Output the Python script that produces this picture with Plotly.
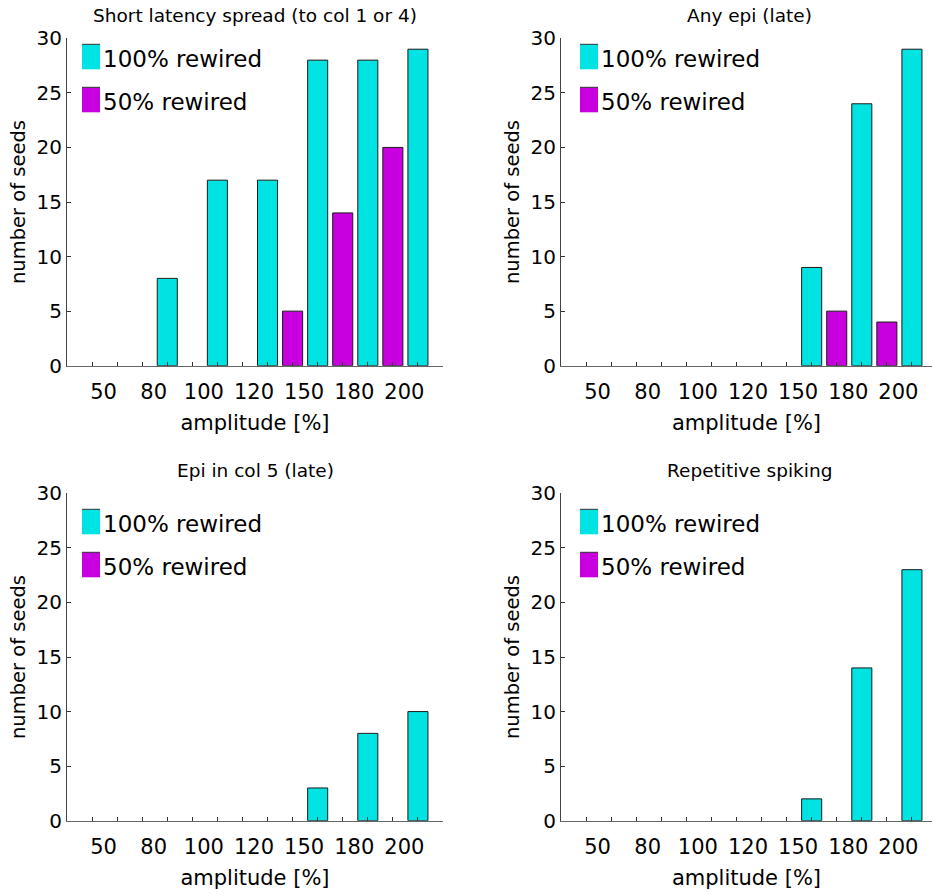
import plotly.graph_objects as go

# ---- data ----
amplitudes = ["50", "80", "100", "120", "150", "180", "200"]
titles = ["Short latency spread (to col 1 or 4)", "Any epi (late)",
          "Epi in col 5 (late)", "Repetitive spiking"]
rewired100 = [
    [0, 8, 17, 17, 28, 28, 29],
    [0, 0, 0, 0, 9, 24, 29],
    [0, 0, 0, 0, 3, 8, 10],
    [0, 0, 0, 0, 2, 14, 23],
]
rewired50 = [
    [0, 0, 0, 0, 5, 14, 20],
    [0, 0, 0, 0, 0, 5, 4],
    [0, 0, 0, 0, 0, 0, 0],
    [0, 0, 0, 0, 0, 0, 0],
]
series_names = ["100% rewired", "50% rewired"]

# ---- style ----
W, H = 932, 894
FONT = "DejaVu Sans"
CYAN = "#00E3E3"
MAGENTA = "#C800E0"
EDGE = "#1a1a1a"

idx = list(range(len(amplitudes)))
n = len(amplitudes)

# panel pixel geometry: (left, right, top, bottom)
panels = [
    (67, 443, 38.3, 365.7),
    (561, 932, 38.3, 365.7),
    (67, 443, 493.3, 820.7),
    (561, 932, 493.3, 820.7),
]
legend_dx = [0, 4, 0, 4]
legend_dy = [0, 0, 10, 10]
px_per_unit = 376 / (n + 0.5)

fig = go.Figure()
layout = dict(
    width=W, height=H, margin=dict(l=0, r=0, t=0, b=0, pad=0, autoexpand=False),
    plot_bgcolor="white", paper_bgcolor="white",
    barmode="group", bargap=0.0, bargroupgap=0.2,
    showlegend=False, font=dict(family=FONT, color="black"),
)
annotations = []
shapes = []


def edge_widths(vals):
    return [1 if v > 0 else 0 for v in vals]


for p in range(4):
    s = "" if p == 0 else str(p + 1)
    xa, ya = "x" + s, "y" + s
    fig.add_trace(go.Bar(x=idx, y=rewired50[p], name=series_names[1], xaxis=xa, yaxis=ya,
                         marker=dict(color=MAGENTA,
                                     line=dict(color=EDGE, width=edge_widths(rewired50[p])))))
    fig.add_trace(go.Bar(x=idx, y=rewired100[p], name=series_names[0], xaxis=xa, yaxis=ya,
                         marker=dict(color=CYAN,
                                     line=dict(color=EDGE, width=edge_widths(rewired100[p])))))
    L, R, T, B = panels[p]
    x0 = -0.75
    x1 = x0 + (R - L) / px_per_unit
    layout["xaxis" + s] = dict(
        domain=[L / W, R / W], anchor=ya, range=[x0, x1], automargin=False,
        tickmode="array", tickvals=idx, ticktext=amplitudes, ticks="",
        tickfont=dict(size=21), ticklabelstandoff=7, ticklabelshift=-1,
        showline=True, linecolor="#666", linewidth=1,
        showgrid=False, zeroline=False,
        minor=dict(tickmode="array", tickvals=[v + d for v in idx for d in (-0.25, 0.25)],
                   ticks="inside", ticklen=4, tickcolor="#333", tickwidth=1),
        title=dict(text="amplitude [%]", font=dict(size=21), standoff=12),
    )
    layout["yaxis" + s] = dict(
        domain=[1 - B / H, 1 - T / H], anchor=xa, range=[0, 30], automargin=False,
        tickmode="linear", tick0=0, dtick=5, ticks="inside", ticklen=4,
        tickcolor="#333", tickfont=dict(size=20), showline=True,
        linecolor="#444", linewidth=1, showgrid=False, zeroline=False,
        title=dict(text="number of seeds", font=dict(size=19.5), standoff=5),
    )
    annotations.append(dict(text=titles[p], xref=xa, x=(n - 1) / 2, yref=ya + " domain", y=1,
                            yshift=23, yanchor="middle", xanchor="center",
                            showarrow=False, font=dict(size=18.5)))
    # legend
    for k, (nm, col) in enumerate(zip(series_names, [CYAN, MAGENTA])):
        top = 6 + legend_dy[p] + k * 43
        shapes.append(dict(type="rect", xref=xa + " domain", yref=ya + " domain",
                           xsizemode="pixel", ysizemode="pixel", xanchor=0, yanchor=1,
                           x0=15 + legend_dx[p], x1=33 + legend_dx[p], y0=-top, y1=-(top + 25),
                           fillcolor=col, line=dict(color=col, width=0)))
        shapes.append(dict(type="line", xref=xa + " domain", yref=ya + " domain",
                           xsizemode="pixel", ysizemode="pixel", xanchor=0, yanchor=1,
                           x0=15 + legend_dx[p], x1=33 + legend_dx[p], y0=-top, y1=-top,
                           line=dict(color="#333", width=1)))
        annotations.append(dict(text=nm, xref=xa + " domain", x=0, xshift=34 + legend_dx[p],
                                yref=ya + " domain", y=1, yshift=-(top + 14.5),
                                xanchor="left", yanchor="middle", showarrow=False,
                                font=dict(size=23)))

layout["annotations"] = annotations
layout["shapes"] = shapes
fig.update_layout(**layout)
fig.write_html("out.html")
